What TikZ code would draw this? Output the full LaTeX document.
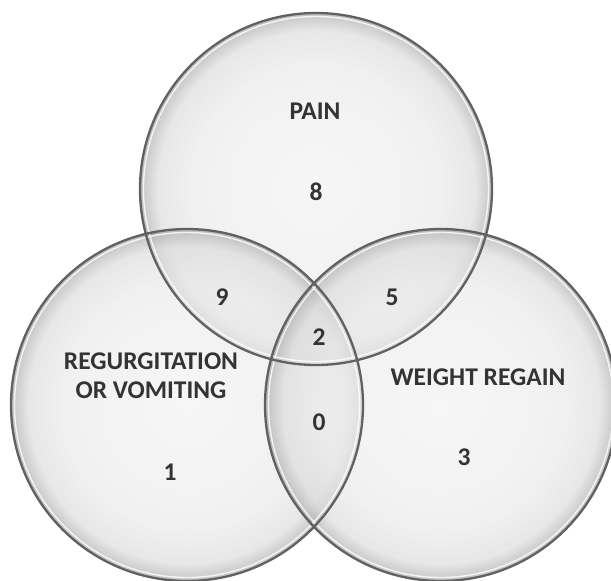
\documentclass[tikz,border=0pt]{standalone}
\usepackage{fontspec}
\setmainfont{Carlito}
\pgfdeclareradialshading{vennshade}{\pgfpoint{0bp}{0bp}}{color(0bp)=(black!5); color(17bp)=(black!8); color(22.5bp)=(black!14); color(24.6bp)=(black!32); color(25bp)=(black!42); color(50bp)=(black!42)}
\begin{document}
\begin{tikzpicture}[x=1pt,y=-1pt,
  setfill/.style={shading=vennshade, opacity=0.65},
  ring/.style={draw=black!62, line width=2.3pt},
  glow/.style={draw=white, line width=1.4pt, opacity=0.8},
  lab/.style={font=\fontsize{25.5}{27}\selectfont\bfseries, text=black!80, align=center, inner sep=0pt}]
\useasboundingbox (0,0) rectangle (611,581);
\fill[white] (0,0) rectangle (611,581);
\coordinate (cP) at (316,189);
\coordinate (cR) at (187,405);
\coordinate (cW) at (441,405);
\def\rr{176}
\shade[setfill] (cP) circle[radius=\rr];
\shade[setfill] (cR) circle[radius=\rr];
\shade[setfill] (cW) circle[radius=\rr];
\draw[glow] (cP) circle[radius=\rr-3.5];
\draw[glow] (cR) circle[radius=\rr-3.5];
\draw[glow] (cW) circle[radius=\rr-3.5];
\draw[ring] (cP) circle[radius=\rr];
\draw[ring] (cR) circle[radius=\rr];
\draw[ring] (cW) circle[radius=\rr];
\node[lab] (pain) at (315,111) {PAIN};
\node[lab] (n8) at (316,192) {8};
\node[lab] (n9) at (222,297) {9};
\node[lab] (n5) at (392,297) {5};
\node[lab] (n2) at (319,337) {2};
\node[lab] (n0) at (319,422) {0};
\node[lab] (regurg) at (151,376) {REGURGITATION\\[2pt]OR VOMITING};
\node[lab] (weight) at (478,377) {WEIGHT REGAIN};
\node[lab] (n1) at (170,472) {1};
\node[lab] (n3) at (464,457) {3};
\end{tikzpicture}
\end{document}
